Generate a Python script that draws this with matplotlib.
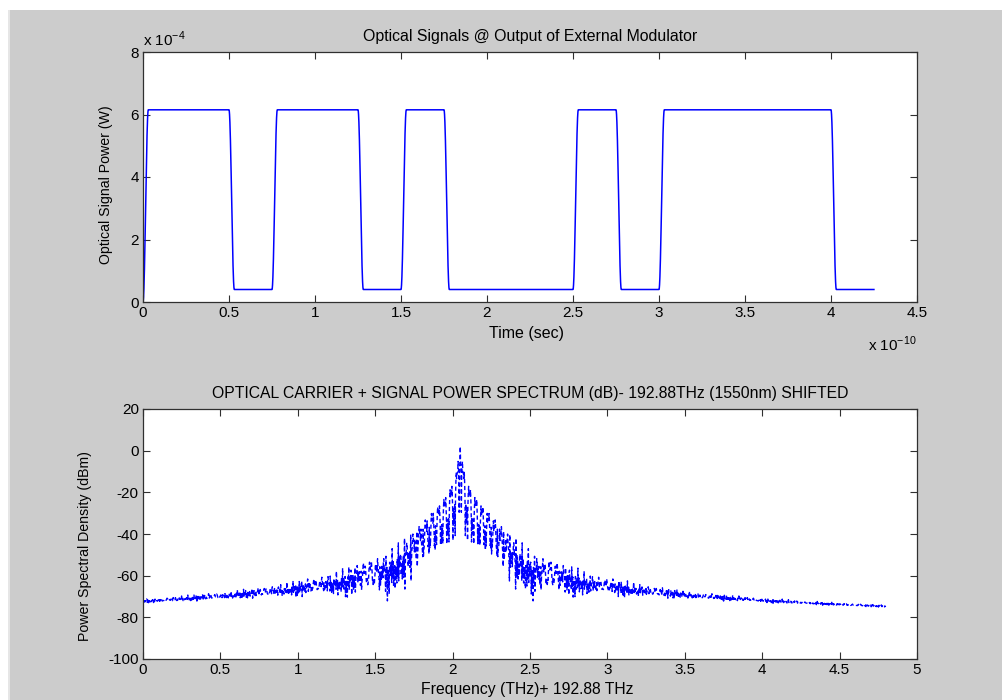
import matplotlib
matplotlib.use("Agg")
import matplotlib.pyplot as plt
import numpy as np
from matplotlib.patches import Rectangle

# bit pattern (one bit = 0.25 x 1e-10 s)
bits = [1, 1, 0, 1, 1, 0, 1, 0, 0, 0, 1, 0, 1, 1, 1, 1, 0]
bit_period = 0.25          # x 1e-10 s
samples_per_bit = 480
ramp_samples = 60          # ~3 ps edges
p_high = 6.15              # x 1e-4 W
p_low = 0.4                # x 1e-4 W
p_start = 0.0

# spectrum readings
span_thz = 4.8
carrier_thz = 2.05
carrier_dbm = 2.0
edge_level_dbm = -72.0       # level at the left end of the spectrum


def build_signal():
    out = []
    prev = p_start
    shape = 0.5 - 0.5 * np.cos(np.linspace(0, np.pi, ramp_samples))
    for b in bits:
        lvl = p_high if b else p_low
        seg = np.full(samples_per_bit, lvl)
        if lvl != prev:
            seg[:ramp_samples] = prev + (lvl - prev) * shape
        out.append(seg)
        prev = lvl
    return np.concatenate(out)


power = build_signal()
n = len(power)
t = np.arange(n) * bit_period / samples_per_bit

# spectrum of the optical field
field = np.sqrt(power * 1e-4)
spec = np.fft.fftshift(np.abs(np.fft.fft(field) / n) ** 2)
df = 1.0 / (bit_period * 1e-10 * len(bits)) / 1e12      # THz
n_span = int(round(span_thz / df))
lo = n // 2 - int(round(carrier_thz / df))
spec_db = 10 * np.log10(spec[lo:lo + n_span])
spec_db = spec_db + (edge_level_dbm - np.median(spec_db[:60]))
spec_db[np.argmax(spec_db)] = carrier_dbm
freq = np.arange(n_span) * df

plt.rcParams['font.family'] = ['Liberation Sans', 'DejaVu Sans']
plt.rcParams['font.size'] = 11
plt.rcParams['axes.unicode_minus'] = False

fig = plt.figure(figsize=(10.03, 7.0), dpi=100, facecolor='white')
fig.patches.append(Rectangle((10 / 1003, 0), 1, 690 / 700, transform=fig.transFigure,
                             facecolor='#cccccc', edgecolor='none', zorder=-10))
fig.patches.append(Rectangle((8 / 1003, 0), 2 / 1003, 690 / 700, transform=fig.transFigure,
                             facecolor='#e6e6e6', edgecolor='none', zorder=-9))

W, H = 1003, 700
ax1 = fig.add_axes([143 / W, 1 - 302 / H, 774 / W, 250 / H])
ax2 = fig.add_axes([143 / W, 1 - 659 / H, 774 / W, 250 / H])

for ax in (ax1, ax2):
    ax.tick_params(direction='in', length=5, top=True, right=True, width=0.8,
                   colors='#303030', labelcolor='black', pad=3)
    for s in ax.spines.values():
        s.set_color('#303030')
        s.set_linewidth(0.9)

ax1.plot(t, power, color='#0000ff', lw=1.1)
ax1.set_xlim(0, 4.5)
ax1.set_ylim(0, 8)
ax1.set_xticks(np.arange(0, 4.51, 0.5))
ax1.set_xticklabels(['0', '0.5', '1', '1.5', '2', '2.5', '3', '3.5', '4', '4.5'])
ax1.set_yticks([0, 2, 4, 6, 8])
ax1.set_title('Optical Signals @ Output of External Modulator', pad=8, fontsize=11.4)
ax1.set_xlabel('Time (sec)', fontsize=11.5)
ax1.xaxis.set_label_coords(0.496, -0.095)
ax1.set_ylabel('Optical Signal Power (W)', fontsize=10.2)
ax1.yaxis.set_label_coords(-0.039, 0.47)
ax1.text(0.0, 1.012, r'x 10$^{\mathregular{-4}}$', transform=ax1.transAxes, ha='left', va='bottom')
ax1.text(1.0, -0.13, r'x 10$^{\mathregular{-10}}$', transform=ax1.transAxes, ha='right', va='top')

ax2.plot(freq, spec_db, color='#0000ff', lw=1.0, ls=(0, (3, 2)))
ax2.set_xlim(0, 5)
ax2.set_ylim(-100, 20)
ax2.set_xticks(np.arange(0, 5.01, 0.5))
ax2.set_xticklabels(['0', '0.5', '1', '1.5', '2', '2.5', '3', '3.5', '4', '4.5', '5'])
ax2.set_yticks(np.arange(-100, 21, 20))
ax2.set_title('OPTICAL CARRIER + SIGNAL POWER SPECTRUM (dB)- 192.88THz (1550nm) SHIFTED',
              pad=8, fontsize=11.3)
ax2.set_xlabel('Frequency (THz)+ 192.88 THz', fontsize=11.3)
ax2.xaxis.set_label_coords(0.496, -0.092)
ax2.set_ylabel('Power Spectral Density (dBm)', fontsize=10.2)
ax2.yaxis.set_label_coords(-0.066, 0.45)

fig.savefig('out.png', dpi=100, facecolor=fig.get_facecolor())
